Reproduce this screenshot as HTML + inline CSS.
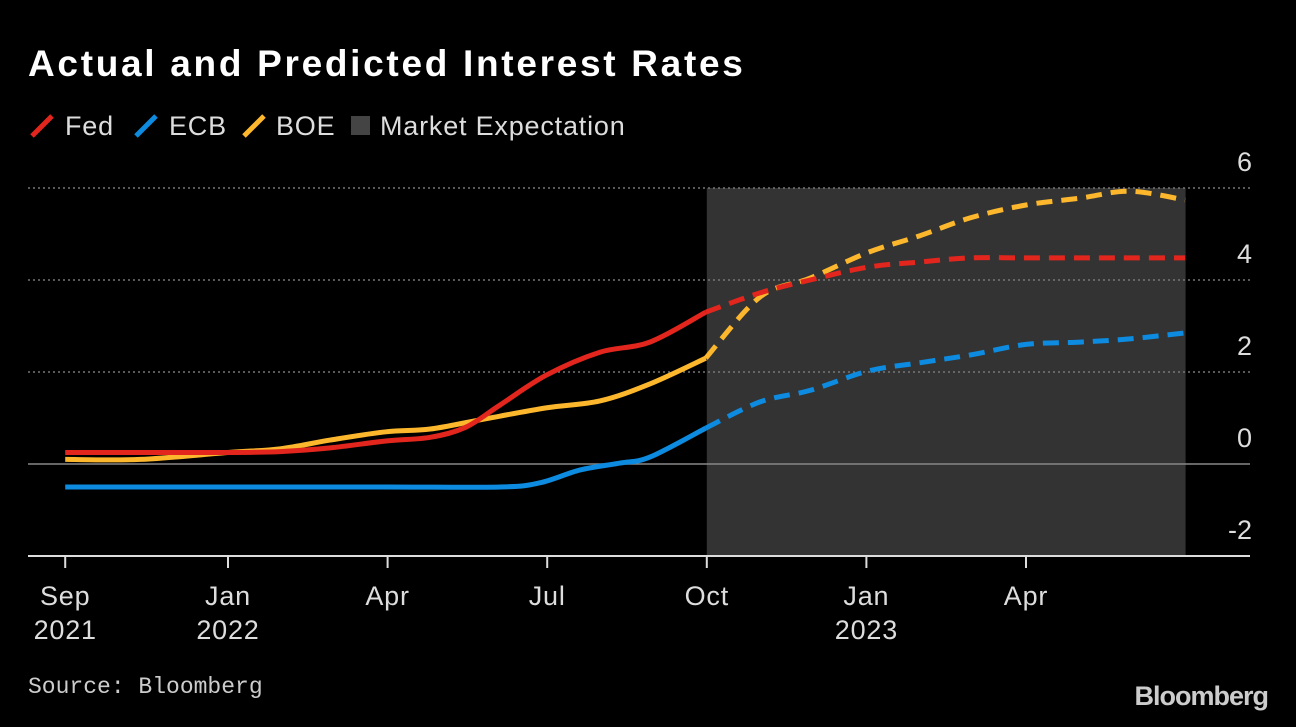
<!DOCTYPE html>
<html><head><meta charset="utf-8"><style>
body{margin:0;background:#000;width:1296px;height:722px;overflow:hidden;font-family:"Liberation Sans",sans-serif;color:#fff}
</style></head><body>
<svg width="1296" height="722">
<text x="28" y="76" font-size="37" font-weight="bold" letter-spacing="2.7" fill="#fff">Actual and Predicted Interest Rates</text>
<g font-size="27" letter-spacing="0.8" fill="#ddd">
 <g><line x1="32" y1="136" x2="52" y2="116" stroke="#e3261d" stroke-width="5"/><text x="65" y="135">Fed</text></g>
 <g><line x1="136" y1="136" x2="156" y2="116" stroke="#0c8be0" stroke-width="5"/><text x="169" y="135">ECB</text></g>
 <g><line x1="244" y1="136" x2="264" y2="116" stroke="#fcb72d" stroke-width="5"/><text x="276" y="135">BOE</text></g>
 <g><rect x="351" y="116" width="19" height="19" fill="#444"/><text x="380" y="135">Market Expectation</text></g>
</g>
<g id="plot"></g>
<text x="28" y="693" font-size="23" fill="#ccc" font-family="Liberation Mono, monospace">Source: Bloomberg</text>
<text x="1268" y="705" font-size="27" font-weight="bold" fill="#ccc" text-anchor="end" letter-spacing="-1">Bloomberg</text>
</svg>
<script>
const yTicks=[6,4,2,0,-2];
const xTickVals=[0.94,4,7,10,13,16,19];
const xTickLabels=[["Sep","2021"],["Jan","2022"],["Apr",""],["Jul",""],["Oct",""],["Jan","2023"],["Apr",""]];
const shadeRange=[13,22];
const fedM=[0.94,2.35,4,4.98,5.92,6.97,7.8,8.47,9.11,9.98,10.99,11.93,12.98,14,14.94,16.03,17,17.95,19,20.02,20.95,21.99];
const fedV=[0.25,0.25,0.25,0.27,0.35,0.5,0.58,0.8,1.28,1.93,2.43,2.65,3.3,3.72,4.0,4.28,4.39,4.48,4.48,4.48,4.48,4.48];
const ecbM=[0.94,4,7,9.11,9.86,10.62,11.37,11.93,12.98,14,14.94,16.03,17,17.95,19,20.02,20.95,21.99];
const ecbV=[-0.5,-0.5,-0.5,-0.5,-0.41,-0.13,0.02,0.15,0.78,1.35,1.6,2.02,2.2,2.37,2.6,2.65,2.72,2.85];
const boeM=[0.94,2.35,4,4.98,5.92,6.97,7.8,8.74,9.98,10.99,11.93,12.98,14,14.94,16.03,17,17.95,19,20.02,20.95,21.99];
const boeV=[0.1,0.1,0.25,0.33,0.52,0.7,0.76,0.96,1.22,1.37,1.74,2.3,3.63,4.04,4.6,4.96,5.35,5.63,5.78,5.93,5.74];
const actualEnd=13;
const NS="http://www.w3.org/2000/svg";
const X=m=>228+(m-4)*53.2, Y=v=>464-46*v;
const g=document.getElementById('plot');
function mk(t,a){const e=document.createElementNS(NS,t);for(const k in a)e.setAttribute(k,a[k]);g.appendChild(e);return e;}
const sh=mk('rect',{x:X(shadeRange[0]),y:Y(6),width:X(shadeRange[1])-X(shadeRange[0]),height:Y(-2)-Y(6),fill:'#333'});


yTicks.forEach(v=>{
 if(v>-2&&v!==0){const l=mk('line',{x1:28,x2:1250,y1:Y(v),y2:Y(v),stroke:'#777','stroke-dasharray':'2,3','stroke-width':1.5});
 
 }
 const t=mk('text',{x:1252,y:Y(v)-17,'text-anchor':'end','font-size':27,fill:'#ddd'});t.textContent=v;
 
 
});
const z=mk('line',{x1:28,x2:1250,y1:Y(0),y2:Y(0),stroke:'#888','stroke-width':1.5});


const ax=mk('line',{x1:28,x2:1250,y1:Y(-2),y2:Y(-2),stroke:'#ddd','stroke-width':2});


xTickVals.forEach((m,i)=>{
 const tk=mk('line',{x1:X(m),x2:X(m),y1:Y(-2),y2:Y(-2)+12,stroke:'#ddd','stroke-width':2});
 
 
 xTickLabels[i].forEach((s,j)=>{if(!s)return;
  const t=mk('text',{x:X(m),y:605+j*34,'text-anchor':'middle','font-size':27,'letter-spacing':0.8,fill:'#ddd'});t.textContent=s;
  
  });
});
function path(pts){let d=`M${pts[0][0]},${pts[0][1]}`;
 for(let i=0;i<pts.length-1;i++){const p0=pts[Math.max(i-1,0)],p1=pts[i],p2=pts[i+1],p3=pts[Math.min(i+2,pts.length-1)];
  d+=` C${p1[0]+(p2[0]-p0[0])/6},${p1[1]+(p2[1]-p0[1])/6} ${p2[0]-(p3[0]-p1[0])/6},${p2[1]-(p3[1]-p1[1])/6} ${p2[0]},${p2[1]}`;}
 return d;}
function series(M,V,col,name){
 const pts=M.map((m,i)=>[X(m),Y(V[i])]);
 let k=0;M.forEach((m,i)=>{if(m<=actualEnd+0.05)k=i;});
 const a=pts.slice(0,k+1), f=pts.slice(k);
 const s=mk('path',{d:path(a),fill:'none',stroke:col,'stroke-width':5,'stroke-linejoin':'round'});
 
 
 const p=mk('path',{d:path(f),fill:'none',stroke:col,'stroke-width':5,'stroke-dasharray':'16,9'});
 
 
}
series(ecbM,ecbV,'#0c8be0','ecb');
series(boeM,boeV,'#fcb72d','boe');
series(fedM,fedV,'#e3261d','fed');
</script>
</body></html>
